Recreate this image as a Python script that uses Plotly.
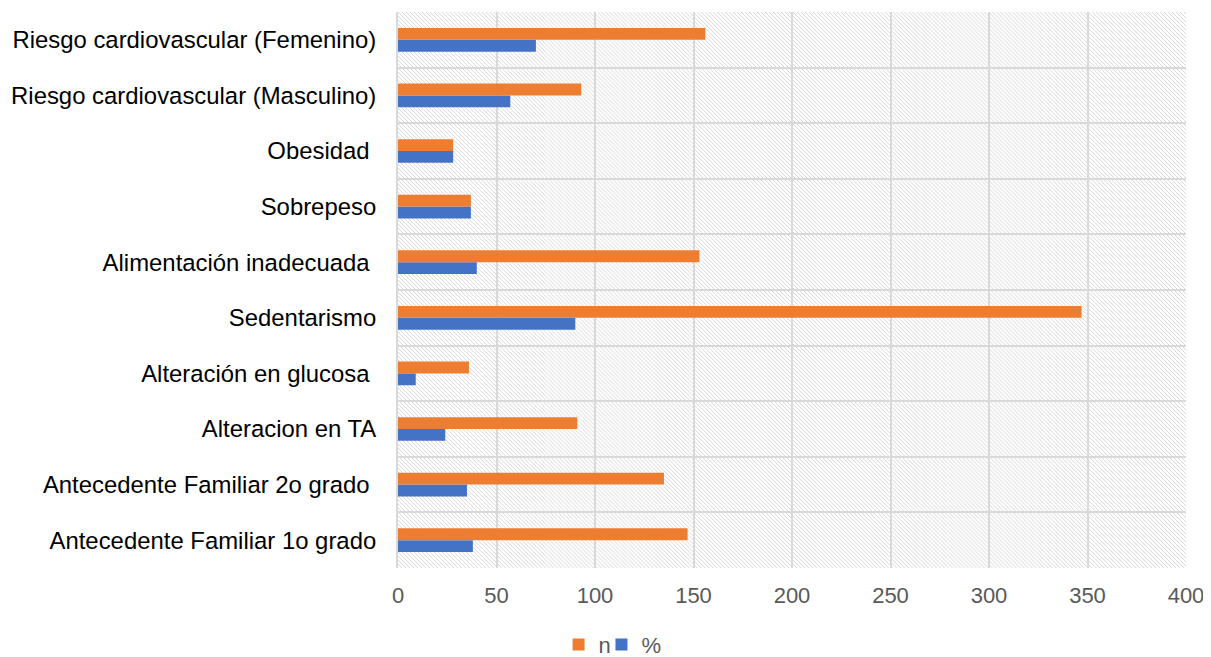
import base64
import plotly.graph_objects as go

categories = [
    "Antecedente Familiar 1o grado",
    "Antecedente Familiar 2o grado\u00a0",
    "Alteracion en TA",
    "Alteración en glucosa\u00a0",
    "Sedentarismo",
    "Alimentación inadecuada\u00a0",
    "Sobrepeso",
    "Obesidad\u00a0",
    "Riesgo cardiovascular (Masculino)",
    "Riesgo cardiovascular (Femenino)",
]
n_values = [147, 135, 91, 36, 347, 153, 37, 28, 93, 156]
pct_values = [38, 35, 24, 9, 90, 40, 37, 28, 57, 70]
x_ticks = [0, 50, 100, 150, 200, 250, 300, 350, 400]

ORANGE = "#ED7D31"
BLUE = "#4472C4"
GRID = "#d9d9d9"
FONT = "Liberation Sans, Arial, sans-serif"

fig = go.Figure()
fig.add_trace(go.Bar(y=categories, x=pct_values, orientation="h", name="%",
                     legend="legend2",
                     marker=dict(color=BLUE, line=dict(width=0))))
fig.add_trace(go.Bar(y=categories, x=n_values, orientation="h", name="n",
                     legend="legend",
                     marker=dict(color=ORANGE, line=dict(width=0))))

svg = ('<svg xmlns="http://www.w3.org/2000/svg" width="790" height="556">'
       '<defs><pattern id="h" width="4" height="4" patternUnits="userSpaceOnUse">'
       '<path d="M-1,-1 L5,5 M-1,3 L1,5 M3,-1 L5,1" stroke="#d8d8d8" stroke-width="1"/>'
       '</pattern></defs><rect width="100%" height="100%" fill="url(#h)"/></svg>')
src = "data:image/svg+xml;base64," + base64.b64encode(svg.encode()).decode()

legend_style = dict(orientation="h", xanchor="left", y=-0.138, yanchor="middle",
                    font=dict(size=22, color="#595959"), itemwidth=30,
                    bgcolor="rgba(0,0,0,0)")

fig.update_layout(
    width=1203, height=649,
    margin=dict(l=390, r=25, t=4, b=89, autoexpand=False),
    paper_bgcolor="white", plot_bgcolor="white",
    barmode="group", bargap=0.574, bargroupgap=0,
    font=dict(family=FONT, size=22, color="#595959"),
    images=[dict(source=src, xref="paper", yref="paper", x=0, y=1,
                 sizex=1, sizey=1, xanchor="left", yanchor="top",
                 sizing="stretch", layer="below")],
    xaxis=dict(range=[0, 400], tickvals=x_ticks, showgrid=True, gridcolor=GRID,
               gridwidth=2, zeroline=False, showline=False, ticks="",
               automargin=False,
               tickfont=dict(size=22, color="#595959"), ticklabelstandoff=12),
    yaxis=dict(type="category", tickson="boundaries", showgrid=True, gridcolor=GRID,
               gridwidth=2, showline=True, linecolor=GRID, linewidth=2,
               ticks="", ticklen=0, ticklabelstandoff=15, automargin=False,
               tickfont=dict(size=23.9, color="#000000")),
    legend=dict(x=0.2038, **legend_style),
    legend2=dict(x=0.2582, **legend_style),
    showlegend=True,
)

fig.write_html("out.html")
